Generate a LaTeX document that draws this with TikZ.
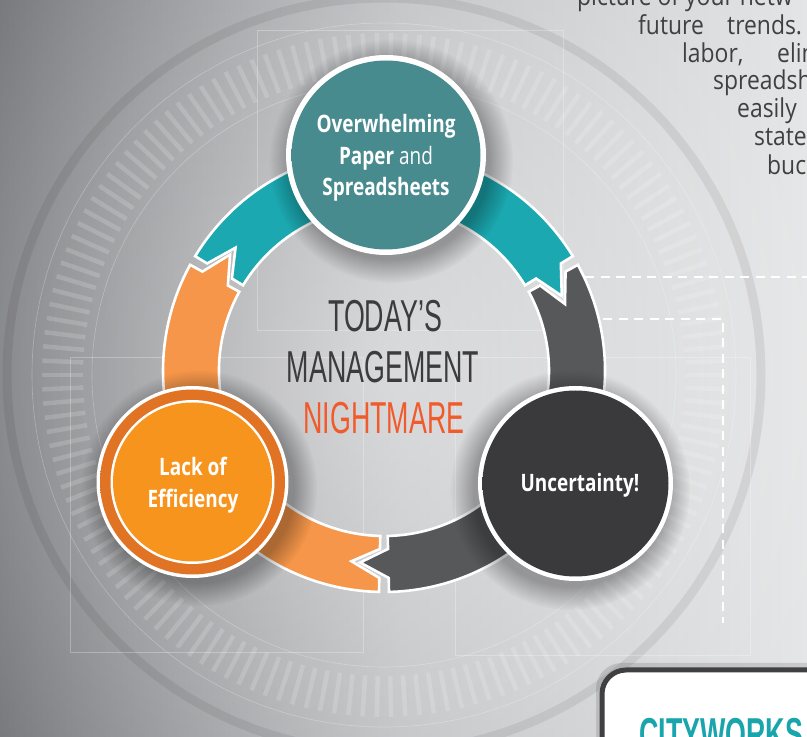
\documentclass[tikz,border=0pt]{standalone}
\usepackage{fontspec}
\usetikzlibrary{fadings}
\newfontfamily\titlefont[FakeStretch=0.6]{Liberation Sans}
\newfontfamily\labelfont[FakeStretch=0.79]{Open Sans}
\newfontfamily\parafont[FakeStretch=0.88]{Open Sans}
\definecolor{bgleft}{HTML}{76777B}
\definecolor{bgmid}{HTML}{BDBEC1}
\definecolor{bgright}{HTML}{E4E5E6}
\definecolor{segteal}{HTML}{1BA8B0}
\definecolor{segorange}{HTML}{F5964A}
\definecolor{seggray}{HTML}{57585A}
\definecolor{tealdark}{HTML}{478B8F}
\definecolor{tealmid}{HTML}{4F9DA2}
\definecolor{teallight}{HTML}{68C3C9}
\definecolor{orring}{HTML}{E07424}
\definecolor{orringdark}{HTML}{C9621C}
\definecolor{orfill}{HTML}{F7941E}
\definecolor{darkfill}{HTML}{3A393B}
\definecolor{darkedge}{HTML}{5A5A5C}
\definecolor{titlegray}{HTML}{3C3B3D}
\definecolor{nightred}{HTML}{F15A2B}
\definecolor{paragray}{HTML}{404042}
\definecolor{boxborder}{HTML}{404042}
\definecolor{cityteal}{HTML}{1AA5AC}
\pgfdeclareradialshading{tealdisc}{\pgfpoint{0bp}{0bp}}{color(0bp)=(tealdark); color(38bp)=(tealdark); color(45bp)=(tealmid); color(50bp)=(teallight)}
\pgfdeclareradialshading{darkdisc}{\pgfpoint{0bp}{0bp}}{color(0bp)=(darkfill); color(40bp)=(darkfill); color(50bp)=(darkedge)}
\pgfdeclareradialshading{ordisc}{\pgfpoint{0bp}{0bp}}{color(0bp)=(orring); color(44bp)=(orring); color(50bp)=(orringdark)}
\tikzfading[name=softglow, inner color=transparent!55, outer color=transparent!100]
\def\dd{8.4}
\newcommand{\mysegment}[3]{%
  \pgfmathsetmacro{\tA}{#1-\dd}\pgfmathsetmacro{\tB}{#2-\dd}%
  \filldraw[segline, fill=#3] (#1:221pt) arc[start angle=#1, end angle=#2, radius=221pt]
    -- (#2:207pt) -- (\tB:193pt) -- (#2:178pt) -- (#2:165pt)
    arc[start angle=#2, end angle=#1, radius=165pt]
    -- (#1:178pt) -- (\tA:193pt) -- (#1:207pt) -- cycle;}
\tikzset{
  segline/.style={draw=white, line width=2.6pt, line join=miter},
  tick/.style={white, opacity=0.16, line width=4.5pt},
  faint/.style={white, opacity=0.28, line width=0.6pt},
  wdash/.style={white, line width=2.6pt, dash pattern=on 9pt off 6.5pt},
  para/.style={inner sep=0pt, text=paragray, font=\parafont\fontsize{26}{26}\selectfont},
  title/.style={inner sep=0pt, anchor=base, font=\titlefont\fontsize{44.7}{44.7}\selectfont},
  clabel/.style={inner sep=0pt, anchor=base, text=white, font=\labelfont\bfseries\fontsize{24}{24}\selectfont},
  shadowc/.style={black, opacity=0.3, path fading=circle with fuzzy edge 20 percent},
}
\begin{document}
\begin{tikzpicture}[x=1pt,y=1pt]
\useasboundingbox (0,0) rectangle (807,737);
\clip (0,0) rectangle (807,737);
% background
\shade[left color=bgleft, right color=bgright, middle color=bgmid] (0,0) rectangle (807,737);
\fill[white, path fading=softglow] (384,366) circle (560pt);
% decorative rings
\begin{scope}[shift={(384,362)}]
  \draw[black, opacity=0.07, line width=9pt] (0,0) circle (377pt);
  \draw[faint] (0,0) circle (292pt);
  \draw[faint] (0,0) circle (352pt);
  \foreach \a in {0,2.4,...,357.6} \draw[tick] (\a:301pt) -- (\a:342pt);
\end{scope}
\draw[faint] (257,707) rectangle (563,407);
\draw[faint] (70,380) rectangle (363,85);
\draw[faint] (455,380) rectangle (750,82);
% dashed connectors
\coordinate (d1a) at (585,460);
\coordinate (d1b) at (807,460);
\coordinate (d2a) at (603,418);
\coordinate (d2b) at (723,418);
\coordinate (d2c) at (723,114);
\draw[wdash] (d1a) -- (d1b);
\draw[wdash] (d2a) -- (d2b) -- (d2c);
% paragraph fragments
\node[para, anchor=base west] (p1) at (577,731) {picture of your netw};
\node[para, anchor=base west] (p2a) at (638,702) {future};
\node[para, anchor=base west] (p2b) at (727,702) {trends.};
\node[para, anchor=base west] (p3a) at (682,674) {labor,};
\node[para, anchor=base west] (p3b) at (777,674) {elim};
\node[para, anchor=base west] (p4) at (713,647) {spreadsh};
\node[para, anchor=base west] (p5) at (737,619) {easily};
\node[para, anchor=base west] (p6) at (754,591) {state};
\node[para, anchor=base west] (p7) at (767,562) {buc};
% ring segments
\begin{scope}[shift={(384,366)}]
  \mysegment{148.7}{31.3}{segteal}
  \mysegment{28.7}{-88.7}{seggray}
  \mysegment{268.7}{151.3}{segorange}
\end{scope}
% circle shadows
\fill[shadowc] (391,576) circle (122pt);
\fill[shadowc] (199,249) circle (118pt);
\fill[shadowc] (570,247) circle (120pt);
% teal circle
\fill[white] (386,582) circle (100pt);
\shade[shading=tealdisc] (386,582) circle (94.5pt);
\node[clabel] (t1) at (386,604) {Overwhelming};
\node[clabel] (t2) at (386,572) {Paper \mdseries and};
\node[clabel] (t3) at (386,541) {Spreadsheets};
% orange circle
\fill[white] (192.5,255) circle (96pt);
\shade[shading=ordisc] (192.5,255) circle (92.5pt);
\fill[white] (192.5,255) circle (82pt);
\fill[orfill] (192.5,255) circle (79.5pt);
\node[clabel] (o1) at (193,261.3) {Lack of};
\node[clabel] (o2) at (193,229.4) {Efficiency};
% dark circle
\fill[white] (575.5,253.5) circle (97.5pt);
\shade[shading=darkdisc] (575.5,253.5) circle (93pt);
\node[clabel] (u1) at (580,245.3) {Uncertainty!};
% centre title
\node[title, text=titlegray] (h1) at (385,405.3) {TODAY’S};
\node[title, text=titlegray] (h2) at (383,354) {MANAGEMENT};
\node[title, text=nightred] (h3) at (384,303) {NIGHTMARE};
% bottom-right box
\fill[black, opacity=0.12, rounded corners=26pt] (596,74) rectangle (850,-40);
\filldraw[fill=white, draw=boxborder, line width=5pt, rounded corners=24pt] (602,67) rectangle (850,-40);
\node[inner sep=0pt, anchor=base west, text=cityteal, font=\titlefont\bfseries\fontsize{44.7}{44.7}\selectfont] (cw) at (639,-13) {CITYWORKS};
\end{tikzpicture}
\end{document}
